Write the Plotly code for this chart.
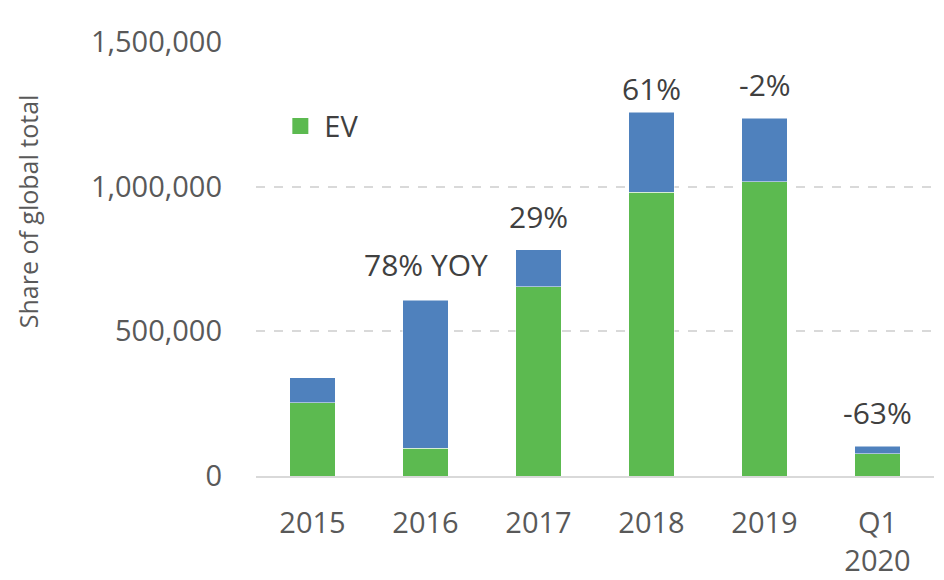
import plotly.graph_objects as go

categories = ["2015", "2016", "2017", "2018", "2019", "Q1<br>2020"]
ev_values = [254000, 96000, 654000, 981000, 1017000, 77000]
other_values = [86000, 511000, 128000, 277000, 219000, 25000]
yoy_labels = ["", "78% YOY", "29%", "61%", "-2%", "-63%"]
label_shift = [0, 13, 11, 1, 11, 11]
y_ticks = [0, 500000, 1000000, 1500000]
y_tick_text = ["0", "500,000", "1,000,000", "1,500,000"]

GREEN = "#5CBA50"
BLUE = "#4F81BD"
GREY = "#595959"
FONT = "Open Sans"

fig = go.Figure()
fig.add_trace(go.Bar(x=categories, y=ev_values, name="EV", showlegend=False,
                     marker=dict(color=GREEN, line=dict(color="rgba(255,255,255,0.5)", width=1))))
fig.add_trace(go.Bar(x=categories, y=other_values, name="Other", showlegend=False,
                     marker=dict(color=BLUE, line=dict(color="rgba(255,255,255,0.5)", width=1))))
# legend-only entry with a larger square swatch
fig.add_trace(go.Scatter(x=[None], y=[None], mode="markers", name="EV",
                         marker=dict(symbol="square", size=19, color=GREEN)))

totals = [a + b for a, b in zip(ev_values, other_values)]
for i, (t, lab, s) in enumerate(zip(totals, yoy_labels, label_shift)):
    if lab:
        fig.add_annotation(x=i, y=t, text=lab, showarrow=False, yanchor="bottom",
                           yshift=s, font=dict(family=FONT, size=30, color="#404040"))

# y-axis title placed as a rotated annotation (sits above the plot centre in the reference)
fig.add_annotation(xref="paper", yref="paper", x=0, y=0.61, xanchor="center", yanchor="middle",
                   xshift=-228, text="Share of global total", textangle=-90, showarrow=False,
                   font=dict(family=FONT, size=25, color=GREY))

fig.update_layout(
    barmode="stack",
    bargap=0.6,
    width=944, height=580,
    margin=dict(l=248, r=18, t=34, b=112, autoexpand=False),
    paper_bgcolor="white", plot_bgcolor="white",
    font=dict(family=FONT, color=GREY),
    showlegend=True,
    legend=dict(x=0.03, y=0.806, xanchor="left", yanchor="middle",
                font=dict(family=FONT, size=29, color="#404040"),
                bgcolor="rgba(0,0,0,0)", itemwidth=38),
    xaxis=dict(type="category", tickfont=dict(family=FONT, size=29, color=GREY), showline=True,
               linecolor="#D9D9D9", linewidth=2, ticks="", showgrid=False,
               ticklabelstandoff=20, automargin=False),
    yaxis=dict(range=[0, 1500000], tickvals=y_ticks, ticktext=y_tick_text,
               tickfont=dict(family=FONT, size=29, color=GREY),
               showgrid=True, gridcolor="#D9D9D9", griddash="dash", gridwidth=1.5,
               zeroline=False, ticks="", ticklabelstandoff=33, automargin=False),
)

fig.write_html("out.html")
